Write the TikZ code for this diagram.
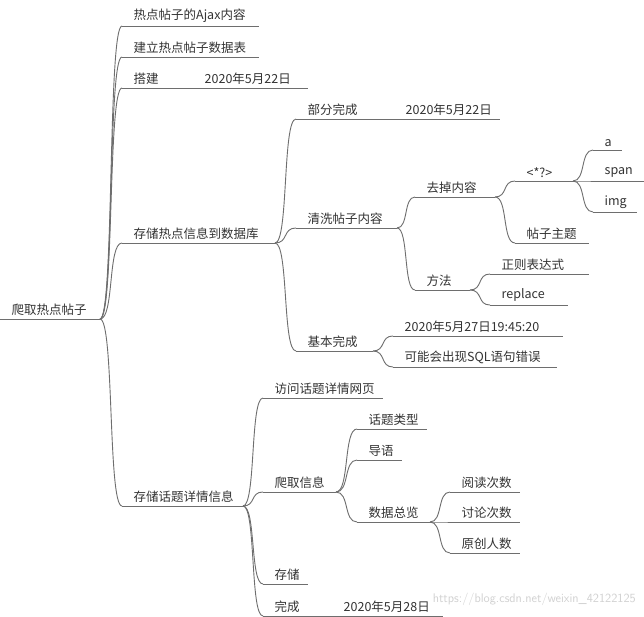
\documentclass[tikz,border=0pt]{standalone}
\usepackage{fontspec}
\setmainfont{Noto Sans CJK SC}
\usetikzlibrary{calc}
\definecolor{lc}{HTML}{6E6E6E}
\definecolor{tc}{HTML}{333333}
\tikzset{ln/.style={draw=lc,line width=0.9pt},
 lbl/.style={anchor=south west,inner sep=1.5pt,text=tc,font=\fontsize{12.5}{14}\selectfont}}
\newcommand\mmn[5]{\coordinate (#1s) at (#2,#4); \coordinate (#1e) at (#3,#4); \draw[ln] (#1s)--(#1e); \node[lbl] (#1) at ($(#1s)+(10,-2)$) {#5};}
\newcommand\lk[2]{\draw[ln] (#1e) .. controls ($(#1e)!0.65!(#1e -| #2s)$) and ($(#2s)!0.65!(#2s -| #1e)$) .. (#2s);}
\begin{document}
\begin{tikzpicture}[x=1pt,y=-1pt]
\useasboundingbox[fill=white] (0,0) rectangle (644,617);
\mmn{r}{0}{100}{319}{爬取热点帖子}
\mmn{a}{122}{259}{26}{热点帖子的Ajax内容}
\mmn{b}{122}{259}{57}{建立热点帖子数据表}
\mmn{c}{122}{308}{88}{搭建}
\node[lbl] (cd) at (203,86) {2020年5月22日};
\mmn{d}{122}{275}{243}{存储热点信息到数据库}
\mmn{e}{122}{243}{506}{存储话题详情信息}
\foreach \t in {a,b,c,d,e}{\lk{r}{\t}}
\mmn{d1}{296}{500}{119}{部分完成}
\node[lbl] (d1d) at (404,117) {2020年5月22日};
\mmn{d2}{296}{397}{228}{清洗帖子内容}
\mmn{d3}{296}{373}{351}{基本完成}
\foreach \t in {d1,d2,d3}{\lk{d}{\t}}
\mmn{f1}{415}{495}{197}{去掉内容}
\mmn{f2}{415}{470}{290}{方法}
\lk{d2}{f1}\lk{d2}{f2}
\mmn{g1}{515}{573}{181}{<*?>}
\mmn{g2}{515}{589}{243}{帖子主题}
\lk{f1}{g1}\lk{f1}{g2}
\mmn{h1}{593}{622}{150}{a}
\mmn{h2}{593}{644}{181}{span}
\mmn{h3}{593}{637}{212}{img}
\lk{g1}{h1}\lk{g1}{h2}\lk{g1}{h3}
\mmn{m1}{490}{589}{274}{正则表达式}
\mmn{m2}{490}{568}{305}{replace}
\lk{f2}{m1}\lk{f2}{m2}
\mmn{k1}{393}{563}{336}{2020年5月27日19:45:20}
\mmn{k2}{393}{557}{367}{可能会出现SQL语句错误}
\lk{d3}{k1}\lk{d3}{k2}
\mmn{e1}{263}{383}{398}{访问话题详情网页}
\mmn{e2}{263}{336}{492}{爬取信息}
\mmn{e3}{263}{308}{584}{存储}
\mmn{e4}{263}{443}{616}{完成}
\node[lbl] (e4d) at (342,614) {2020年5月28日};
\foreach \t in {e1,e2,e3,e4}{\lk{e}{\t}}
\mmn{p1}{357}{427}{429}{话题类型}
\mmn{p2}{357}{402}{460}{导语}
\mmn{p3}{357}{430}{522}{数据总览}
\foreach \t in {p1,p2,p3}{\lk{e2}{\t}}
\mmn{q1}{450}{520}{492}{阅读次数}
\mmn{q2}{450}{520}{522}{讨论次数}
\mmn{q3}{450}{520}{553}{原创人数}
\foreach \t in {q1,q2,q3}{\lk{p3}{\t}}
\node[anchor=south east,inner sep=0pt,text=black!18,font=\fontsize{12.5}{14}\selectfont\sffamily] (wm) at (636,606) {https://blog.csdn.net/weixin\_42122125};
\end{tikzpicture}
\end{document}
